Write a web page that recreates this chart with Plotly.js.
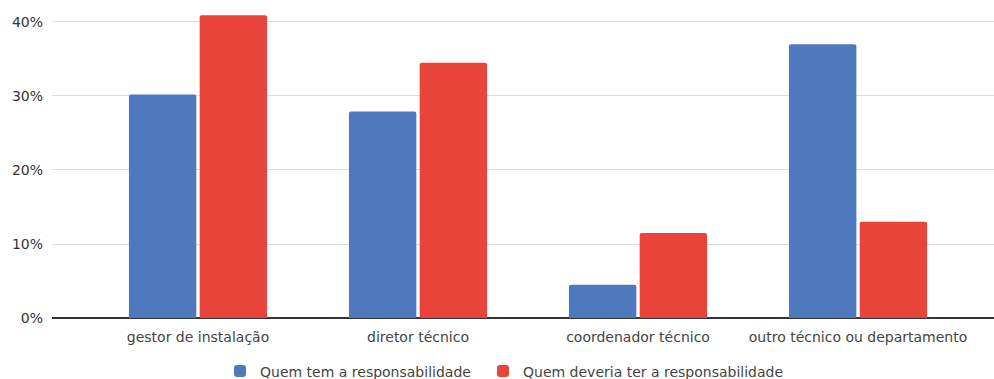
<!DOCTYPE html>
<html lang="pt">
<head>
<meta charset="utf-8">
<script src="https://cdn.plot.ly/plotly-3.0.1.min.js"></script>
<style>
  html, body { margin: 0; padding: 0; background: #ffffff; }
  #chart { width: 994px; height: 379px; }
</style>
</head>
<body>
<div id="chart"></div>
<script>
// Responsabilidade atribuída por função (valores em %)
const categories = [
  "gestor de instalação",
  "diretor técnico",
  "coordenador técnico",
  "outro técnico ou departamento"
];
const seriesNames = [
  "Quem tem a responsabilidade",
  "Quem deveria ter a responsabilidade"
];
const temResponsabilidade = [30.2, 27.9, 4.5, 37.0];
const deveriaTer = [40.9, 34.5, 11.5, 13.0];
const yTicks = [0, 10, 20, 30, 40];
const yTickLabels = ["0%", "10%", "20%", "30%", "40%"];

const FONT = "'DejaVu Sans', 'Liberation Sans', Arial, sans-serif";
const BLUE = "#4e79bf";
const RED = "#e8443a";

const traces = [
  {
    type: "bar",
    name: seriesNames[0],
    x: categories.map((_, i) => i),
    y: temResponsabilidade,
    marker: { color: BLUE, cornerradius: 2 },
    legend: "legend",
    hoverinfo: "skip"
  },
  {
    type: "bar",
    name: seriesNames[1],
    x: categories.map((_, i) => i),
    y: deveriaTer,
    marker: { color: RED, cornerradius: 2 },
    legend: "legend2",
    hoverinfo: "skip"
  }
];

// one legend per series, so each key sits at its own spot below the axis
const legendBase = {
  orientation: "h",
  xref: "container",
  yref: "paper",
  xanchor: "left",
  y: -0.1737,
  yanchor: "middle",
  font: { family: FONT, size: 14, color: "#444444" },
  bgcolor: "rgba(0,0,0,0)",
  itemclick: false,
  itemdoubleclick: false
};

const layout = {
  width: 994,
  height: 379,
  paper_bgcolor: "#ffffff",
  plot_bgcolor: "#ffffff",
  margin: { l: 52, r: 0, t: 10, b: 61, autoexpand: false },
  barmode: "group",
  bargap: 0.357,
  bargroupgap: 0.047,
  font: { family: FONT, size: 14, color: "#444444" },
  xaxis: {
    type: "linear",
    range: [-0.6636, 3.618],
    tickmode: "array",
    tickvals: categories.map((_, i) => i),
    ticktext: categories,
    showgrid: false,
    zeroline: false,
    showline: false,
    ticks: "",
    ticklabelstandoff: 9,
    tickfont: { family: FONT, size: 14, color: "#444444" },
    fixedrange: true
  },
  yaxis: {
    range: [0, 41.62],
    tickmode: "array",
    tickvals: yTicks,
    ticktext: yTickLabels,
    showgrid: true,
    gridcolor: "#dcdcdc",
    gridwidth: 1,
    zeroline: true,
    zerolinecolor: "#333333",
    zerolinewidth: 1.5,
    showline: false,
    ticks: "",
    ticklabelstandoff: 8,
    tickfont: { family: FONT, size: 14, color: "#333333" },
    fixedrange: true
  },
  showlegend: true,
  legend: Object.assign({}, legendBase, { x: 220 / 994 }),
  legend2: Object.assign({}, legendBase, { x: 483 / 994 })
};

Plotly.newPlot("chart", traces, layout, { staticPlot: true, displayModeBar: false });
</script>
</body>
</html>
